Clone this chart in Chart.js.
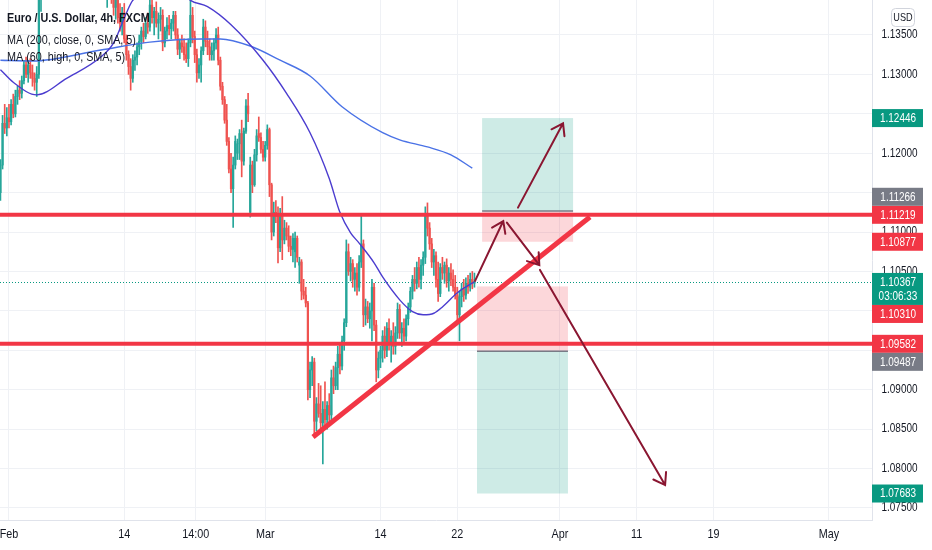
<!DOCTYPE html>
<html>
<head>
<meta charset="utf-8">
<script src="https://cdn.jsdelivr.net/npm/chart.js@4.4.0/dist/chart.umd.min.js"></script>
<style>
  html, body { margin: 0; padding: 0; background: #fff; }
</style>
</head>
<body>
<canvas id="chart" width="932" height="550"></canvas>
<script>
// EUR/USD 4h candles, bar 0 = Feb 1 00:00, first visible bar is -4
var firstBar = -4;
var candleOpen = [
  1.1150,1.1185,1.1238,1.1232,1.1245,1.1240,1.1262,1.1250,1.1272,1.1280,
  1.1276,1.1292,1.1312,1.1300,1.1312,1.1302,1.1295,1.1290,1.1300,1.1400,
  1.1440,1.1430,1.1440,1.1460,1.1450,1.1445,1.1440,1.1448,1.1452,1.1440,
  1.1425,1.1430,1.1420,1.1435,1.1440,1.1415,1.1420,1.1410,1.1425,1.1418,
  1.1425,1.1430,1.1440,1.1432,1.1438,1.1442,1.1445,1.1460,1.1480,1.1450,
  1.1410,1.1420,1.1405,1.1400,1.1385,1.1395,1.1372,1.1365,1.1378,1.1345,
  1.1325,1.1310,1.1295,1.1318,1.1322,1.1335,1.1342,1.1355,1.1348,1.1365,
  1.1360,1.1388,1.1372,1.1380,1.1365,1.1370,1.1375,1.1340,1.1355,1.1362,
  1.1358,1.1365,1.1375,1.1350,1.1332,1.1340,1.1335,1.1325,1.1320,1.1340,
  1.1375,1.1348,1.1325,1.1302,1.1312,1.1330,1.1360,1.1342,1.1335,1.1325,
  1.1330,1.1340,1.1350,1.1318,1.1285,1.1268,1.1242,1.1215,1.1180,1.1155,
  1.1185,1.1200,1.1212,1.1225,1.1190,1.1228,1.1260,1.1125,1.1185,1.1160,
  1.1198,1.1225,1.1220,1.1205,1.1195,1.1210,1.1230,1.1160,1.1100,1.1125,
  1.1120,1.1080,1.1122,1.1090,1.1105,1.1095,1.1082,1.1078,1.1075,1.1092,
  1.1058,1.1062,1.1025,1.1020,1.1010,1.0900,1.0925,1.0935,1.0860,1.0882,
  1.0870,1.0858,1.0875,1.0862,1.0880,1.0868,1.0915,1.0905,1.0928,1.0945,
  1.0930,1.0962,1.0985,1.1075,1.1050,1.1060,1.1040,1.1048,1.1030,1.1062,
  1.1085,1.0995,1.1005,1.0990,1.1000,1.1030,1.0982,1.0925,1.0940,1.0950,
  1.0968,1.0950,1.0978,1.0958,1.0968,1.0955,1.0972,1.1002,1.0972,1.0978,
  1.0968,1.0990,1.1005,1.1025,1.1040,1.1035,1.1055,1.1040,1.1058,1.1068,
  1.1120,1.1105,1.1085,1.1062,1.1070,1.1040,1.1022,1.1055,1.1048,1.1058,
  1.1038,1.1048,1.1040,1.1030,1.1020,1.0995,1.1018,1.1028,1.1020,1.1035,
  1.1030,1.1040,1.1035
];
var candleHigh = [
  1.1192,1.1248,1.1262,1.1258,1.1262,1.1268,1.1275,1.1280,1.1285,1.1292,
  1.1298,1.1318,1.1322,1.1318,1.1320,1.1312,1.1302,1.1310,1.1415,1.1450,
  1.1450,1.1445,1.1470,1.1475,1.1480,1.1460,1.1455,1.1460,1.1460,1.1450,
  1.1445,1.1445,1.1440,1.1445,1.1445,1.1430,1.1435,1.1430,1.1440,1.1432,
  1.1445,1.1448,1.1450,1.1445,1.1450,1.1455,1.1470,1.1495,1.1490,1.1460,
  1.1430,1.1430,1.1415,1.1410,1.1400,1.1405,1.1390,1.1385,1.1390,1.1350,
  1.1330,1.1320,1.1325,1.1330,1.1340,1.1350,1.1360,1.1365,1.1372,1.1378,
  1.1395,1.1400,1.1385,1.1392,1.1378,1.1385,1.1382,1.1360,1.1372,1.1375,
  1.1370,1.1380,1.1380,1.1358,1.1345,1.1350,1.1345,1.1340,1.1345,1.1395,
  1.1385,1.1355,1.1332,1.1320,1.1335,1.1370,1.1368,1.1355,1.1345,1.1340,
  1.1345,1.1358,1.1360,1.1322,1.1290,1.1272,1.1262,1.1220,1.1200,1.1195,
  1.1222,1.1218,1.1230,1.1242,1.1232,1.1268,1.1276,1.1195,1.1190,1.1205,
  1.1230,1.1246,1.1226,1.1215,1.1215,1.1236,1.1232,1.1162,1.1138,1.1140,
  1.1132,1.1130,1.1145,1.1115,1.1112,1.1108,1.1095,1.1098,1.1100,1.1095,
  1.1068,1.1065,1.1040,1.1030,1.1012,1.0935,1.0942,1.0940,1.0890,1.0908,
  1.0905,1.0885,1.0910,1.0885,1.0895,1.0925,1.0930,1.0935,1.0955,1.0958,
  1.0968,1.0990,1.1090,1.1085,1.1068,1.1065,1.1055,1.1060,1.1070,1.1120,
  1.1090,1.1015,1.1012,1.1010,1.1040,1.1035,1.0988,1.0948,1.0955,1.0975,
  1.0980,1.0985,1.0990,1.0975,1.0985,1.0980,1.1010,1.1008,1.0985,1.0990,
  1.0995,1.1010,1.1030,1.1045,1.1055,1.1062,1.1068,1.1065,1.1075,1.1132,
  1.1137,1.1112,1.1092,1.1078,1.1075,1.1062,1.1060,1.1068,1.1062,1.1066,
  1.1055,1.1060,1.1052,1.1045,1.1030,1.1025,1.1035,1.1040,1.1042,1.1045,
  1.1048,1.1050,1.1048
];
var candleLow = [
  1.1140,1.1180,1.1225,1.1222,1.1232,1.1236,1.1245,1.1246,1.1262,1.1268,
  1.1270,1.1288,1.1296,1.1290,1.1295,1.1285,1.1280,1.1272,1.1295,1.1380,
  1.1420,1.1425,1.1430,1.1440,1.1435,1.1420,1.1425,1.1435,1.1425,1.1415,
  1.1410,1.1415,1.1410,1.1420,1.1405,1.1400,1.1405,1.1400,1.1415,1.1410,
  1.1415,1.1420,1.1425,1.1420,1.1428,1.1430,1.1435,1.1450,1.1440,1.1395,
  1.1385,1.1400,1.1390,1.1375,1.1370,1.1365,1.1355,1.1350,1.1340,1.1318,
  1.1300,1.1280,1.1290,1.1305,1.1312,1.1325,1.1332,1.1340,1.1345,1.1352,
  1.1355,1.1365,1.1350,1.1360,1.1345,1.1355,1.1330,1.1335,1.1345,1.1350,
  1.1345,1.1355,1.1345,1.1325,1.1320,1.1328,1.1318,1.1315,1.1310,1.1335,
  1.1340,1.1315,1.1290,1.1295,1.1290,1.1325,1.1335,1.1325,1.1318,1.1318,
  1.1318,1.1332,1.1312,1.1280,1.1262,1.1238,1.1210,1.1175,1.1150,1.1106,
  1.1180,1.1192,1.1192,1.1170,1.1185,1.1225,1.1240,1.1119,1.1150,1.1158,
  1.1190,1.1215,1.1200,1.1190,1.1190,1.1205,1.1145,1.1090,1.1095,1.1112,
  1.1061,1.1075,1.1065,1.1085,1.1090,1.1075,1.1070,1.1062,1.1055,1.1062,
  1.1035,1.1014,1.1015,1.1005,1.0887,1.0890,1.0905,1.0840,1.0848,1.0865,
  1.0845,1.0806,1.0850,1.0850,1.0858,1.0862,1.0895,1.0900,1.0900,1.0920,
  1.0925,1.0950,1.0980,1.1045,1.1038,1.1030,1.1025,1.1020,1.1025,1.1055,
  1.0980,1.0982,1.0985,1.0978,1.0962,1.0975,1.0910,1.0915,1.0928,1.0935,
  1.0940,1.0942,1.0950,1.0935,1.0945,1.0945,1.0965,1.0965,1.0955,1.0960,
  1.0962,1.0982,1.0998,1.1015,1.1025,1.1028,1.1030,1.1028,1.1045,1.1060,
  1.1095,1.1078,1.1055,1.1045,1.1030,1.1012,1.1018,1.1040,1.1035,1.1030,
  1.1025,1.1032,1.1025,1.1015,1.0985,1.0962,1.1005,1.1012,1.1015,1.1022,
  1.1025,1.1028,1.1030
];
var candleClose = [
  1.1185,1.1238,1.1232,1.1245,1.1240,1.1262,1.1250,1.1272,1.1280,1.1276,
  1.1292,1.1312,1.1300,1.1312,1.1302,1.1295,1.1290,1.1300,1.1400,1.1440,
  1.1430,1.1440,1.1460,1.1450,1.1445,1.1440,1.1448,1.1452,1.1440,1.1425,
  1.1430,1.1420,1.1435,1.1440,1.1415,1.1420,1.1410,1.1425,1.1418,1.1425,
  1.1430,1.1440,1.1432,1.1438,1.1442,1.1445,1.1460,1.1480,1.1450,1.1410,
  1.1420,1.1405,1.1400,1.1385,1.1395,1.1372,1.1365,1.1378,1.1345,1.1325,
  1.1310,1.1295,1.1318,1.1322,1.1335,1.1342,1.1355,1.1348,1.1365,1.1360,
  1.1388,1.1372,1.1380,1.1365,1.1370,1.1375,1.1340,1.1355,1.1362,1.1358,
  1.1365,1.1375,1.1350,1.1332,1.1340,1.1335,1.1325,1.1320,1.1340,1.1375,
  1.1348,1.1325,1.1302,1.1312,1.1330,1.1360,1.1342,1.1335,1.1325,1.1330,
  1.1340,1.1350,1.1318,1.1285,1.1268,1.1242,1.1215,1.1180,1.1155,1.1185,
  1.1215,1.1212,1.1225,1.1190,1.1228,1.1260,1.1250,1.1185,1.1160,1.1198,
  1.1222,1.1220,1.1205,1.1195,1.1210,1.1230,1.1160,1.1100,1.1125,1.1120,
  1.1080,1.1122,1.1090,1.1105,1.1095,1.1082,1.1078,1.1092,1.1092,1.1068,
  1.1062,1.1025,1.1020,1.1010,1.0900,1.0925,1.0935,1.0860,1.0882,1.0870,
  1.0858,1.0875,1.0862,1.0880,1.0868,1.0915,1.0905,1.0928,1.0945,1.0930,
  1.0962,1.0985,1.1075,1.1050,1.1060,1.1040,1.1048,1.1030,1.1062,1.1085,
  1.0995,1.1005,1.0990,1.1000,1.1030,1.0982,1.0925,1.0940,1.0950,1.0968,
  1.0950,1.0978,1.0958,1.0968,1.0955,1.0972,1.1002,1.0972,1.0978,1.0968,
  1.0990,1.1005,1.1025,1.1040,1.1035,1.1055,1.1040,1.1058,1.1068,1.1120,
  1.1105,1.1085,1.1062,1.1070,1.1040,1.1022,1.1055,1.1048,1.1058,1.1038,
  1.1048,1.1040,1.1030,1.1020,1.0995,1.1018,1.1028,1.1020,1.1035,1.1030,
  1.1040,1.1035,1.1037
];

// moving averages
var ma200Bars = [-4, 11, 43, 66, 90, 99, 113, 127, 141, 156, 175, 183, 196, 207, 217];
var ma200Values = [1.1318, 1.1317, 1.1331, 1.1341, 1.1345, 1.1345, 1.1336, 1.1318, 1.1298, 1.1259, 1.1226, 1.1217, 1.1208, 1.1198, 1.1181];
var ma60Bars = [-4, 2, 13, 27, 43, 49, 55, 58, 71, 78, 85, 93, 104, 119, 130, 141, 150, 155, 160, 164, 171, 175, 183, 189, 194, 199, 203, 210, 218];
var ma60Values = [1.1306, 1.1290, 1.1274, 1.1295, 1.1322, 1.1340, 1.1378, 1.1394, 1.1410, 1.1412, 1.1394, 1.1386, 1.1363, 1.1318, 1.1276, 1.1226, 1.1168, 1.1125, 1.1099, 1.1086, 1.1061, 1.1043, 1.1014, 1.0999, 1.0995, 1.0997, 1.1005, 1.1023, 1.1037];

// drawings
var hLevels = [1.11219, 1.09582];
var trendBars = [142.4, 272.1];
var trendPrices = [1.0840, 1.1119];
var longBars = [221.6, 264.2];
var longPrices = [1.12446, 1.11266, 1.10877];   // target, entry, stop
var shortBars = [219.2, 261.8];
var shortPrices = [1.10310, 1.09487, 1.07683];  // stop, entry, target
var arrowFromBar = [218.3, 233.2, 248.7, 238.4];
var arrowFromPrice = [1.1038, 1.1112, 1.1052, 1.1131];
var arrowToBar = [231.5, 248.4, 307.3, 259.5];
var arrowToPrice = [1.1114, 1.1058, 1.0779, 1.1238];
var lastPrice = 1.10367;
var countdown = "03:06:33";

// axes
var xTickBars = [0, 54, 87.5, 120, 174, 210, 258, 294, 330, 384];
var xTickLabels = ["Feb", "14", "14:00", "Mar", "14", "22", "Apr", "11", "19", "May"];
var yGridValues = [1.075, 1.080, 1.085, 1.090, 1.095, 1.100, 1.105, 1.110, 1.115, 1.120, 1.125, 1.130, 1.135];
var yTickShown = [1.075, 1.080, 1.085, 1.090, 1.105, 1.110, 1.120, 1.130, 1.135];
var xMin = -4.2, xMax = 404.2;
var yMin = 1.07347, yMax = 1.13944;

var FONT = "'Liberation Sans', Arial, sans-serif";
var SQUEEZE = 0.83;   // the reference uses a narrow face
var UP = "#26A69A", DOWN = "#EF5350", LINE_RED = "#F23645", ARROW = "#8A1631";
var TEAL = "#089981", GREY = "#787B86", TEXT = "#131722", GRID = "#EFF1F5";

Chart.defaults.font.family = FONT;

var colors = candleOpen.map(function(o, k) { return candleClose[k] >= o ? UP : DOWN; });
var wicks = candleOpen.map(function(o, k) { return { x: firstBar + k, y: [candleLow[k], candleHigh[k]] }; });
var bodies = candleOpen.map(function(o, k) { return { x: firstBar + k, y: [o, candleClose[k]] }; });
var ma200 = ma200Bars.map(function(b, k) { return { x: b, y: ma200Values[k] }; });
var ma60 = ma60Bars.map(function(b, k) { return { x: b, y: ma60Values[k] }; });

function lineSet(data, color, width, order, extra) {
    var ds = { type: "line", data: data, borderColor: color, borderWidth: width,
               pointRadius: 0, fill: false, order: order };
    for (var key in extra) ds[key] = extra[key];
    return ds;
}

var datasets = [
    { type: "bar", data: wicks, backgroundColor: colors, barThickness: 1, grouped: false, order: 9 },
    { type: "bar", data: bodies, backgroundColor: colors, barThickness: 1.6, grouped: false, order: 8 },
    lineSet(ma200, "#4A72E6", 1.4, 6, { cubicInterpolationMode: "monotone" }),
    lineSet(ma60, "#4B3CCF", 1.4, 5, { cubicInterpolationMode: "monotone" })
];
hLevels.forEach(function(level) {
    datasets.push(lineSet([{ x: xMin - 2, y: level }, { x: xMax + 2, y: level }], LINE_RED, 4, 3, {}));
});
datasets.push(lineSet(trendBars.map(function(b, k) { return { x: b, y: trendPrices[k] }; }), LINE_RED, 5, 2, {}));

// narrow text: squeeze horizontally around the anchor point
function text(ctx, str, x, y, font, color, align) {
    ctx.save();
    ctx.font = font;
    ctx.fillStyle = color;
    ctx.textAlign = align;
    ctx.textBaseline = "middle";
    ctx.translate(x, y);
    ctx.scale(SQUEEZE, 1);
    ctx.fillText(str, 0, 0);
    ctx.restore();
}

function drawPosition(ctx, x, y, bars, topPrice, entry, bottomPrice, topColor, bottomColor) {
    var x0 = x.getPixelForValue(bars[0]), x1 = x.getPixelForValue(bars[1]);
    var yt = y.getPixelForValue(topPrice), ye = y.getPixelForValue(entry), yb = y.getPixelForValue(bottomPrice);
    ctx.fillStyle = topColor;
    ctx.fillRect(x0, yt, x1 - x0, ye - yt);
    ctx.fillStyle = bottomColor;
    ctx.fillRect(x0, ye, x1 - x0, yb - ye);
    ctx.strokeStyle = GREY;
    ctx.lineWidth = 1.5;
    ctx.beginPath();
    ctx.moveTo(x0, ye);
    ctx.lineTo(x1, ye);
    ctx.stroke();
}

function placeLabels(list, y) {
    var placed = [];
    list.forEach(function(l) {
        var h = l.lines.length * 14 + 4;
        var top = y.getPixelForValue(l.price) - 9;
        for (var pass = 0; pass < 6; pass++) {
            var hit = placed.find(function(p) { return top < p.top + p.h && top + h > p.top; });
            if (!hit) break;
            top = l.price > hit.price ? hit.top - h : hit.top + hit.h;
        }
        placed.push({ price: l.price, lines: l.lines, color: l.color, top: top, h: h });
    });
    return placed;
}

var overlay = {
    id: "overlay",
    beforeDatasetsDraw: function(chart) {
        var ctx = chart.ctx, a = chart.chartArea, x = chart.scales.x, y = chart.scales.y;
        ctx.save();
        ctx.beginPath();
        ctx.rect(a.left, a.top, a.width, a.height);
        ctx.clip();
        // current price line
        var yp = Math.round(y.getPixelForValue(lastPrice)) + 0.5;
        ctx.strokeStyle = TEAL;
        ctx.lineWidth = 1;
        ctx.setLineDash([1, 2]);
        ctx.beginPath();
        ctx.moveTo(a.left, yp);
        ctx.lineTo(a.right, yp);
        ctx.stroke();
        ctx.setLineDash([]);
        drawPosition(ctx, x, y, longBars, longPrices[0], longPrices[1], longPrices[2],
                     "rgba(8,153,129,0.2)", "rgba(242,54,69,0.2)");
        drawPosition(ctx, x, y, shortBars, shortPrices[0], shortPrices[1], shortPrices[2],
                     "rgba(242,54,69,0.2)", "rgba(8,153,129,0.2)");
        ctx.restore();
    },
    afterDatasetsDraw: function(chart) {
        var ctx = chart.ctx, x = chart.scales.x, y = chart.scales.y;
        ctx.save();
        ctx.strokeStyle = ARROW;
        ctx.lineWidth = 2;
        ctx.lineCap = "round";
        arrowFromBar.forEach(function(b, k) {
            var x0 = x.getPixelForValue(b), y0 = y.getPixelForValue(arrowFromPrice[k]);
            var x1 = x.getPixelForValue(arrowToBar[k]), y1 = y.getPixelForValue(arrowToPrice[k]);
            var ang = Math.atan2(y1 - y0, x1 - x0);
            ctx.beginPath();
            ctx.moveTo(x0, y0);
            ctx.lineTo(x1, y1);
            ctx.moveTo(x1 - 13 * Math.cos(ang - 0.6), y1 - 13 * Math.sin(ang - 0.6));
            ctx.lineTo(x1, y1);
            ctx.lineTo(x1 - 13 * Math.cos(ang + 0.6), y1 - 13 * Math.sin(ang + 0.6));
            ctx.stroke();
        });
        ctx.restore();
    },
    afterDraw: function(chart) {
        var ctx = chart.ctx, x = chart.scales.x, y = chart.scales.y, a = chart.chartArea;
        ctx.save();
        // legend text
        text(ctx, "Euro / U.S. Dollar, 4h, FXCM", 7, 18, "bold 13px " + FONT, TEXT, "left");
        text(ctx, "MA (200, close, 0, SMA, 5)", 7, 40, "13px " + FONT, TEXT, "left");
        text(ctx, "MA (60, high, 0, SMA, 5)", 7, 57, "13px " + FONT, TEXT, "left");

        // time axis labels
        xTickBars.forEach(function(v, i) {
            var px = Math.max(x.getPixelForValue(v), 9);
            text(ctx, xTickLabels[i], px, 534, "13px " + FONT, TEXT, "center");
        });
        // price axis labels
        yTickShown.forEach(function(v) {
            text(ctx, v.toFixed(5), a.right + 27.5, y.getPixelForValue(v), "12px " + FONT, TEXT, "center");
        });

        // USD badge
        ctx.strokeStyle = "#D1D4DC";
        ctx.lineWidth = 1;
        ctx.beginPath();
        ctx.roundRect(891.5, 8.5, 23, 18, 4);
        ctx.stroke();
        text(ctx, "USD", 903, 18, "11px " + FONT, TEXT, "center");

        // coloured price scale labels
        var list = [
            { price: lastPrice, lines: [lastPrice.toFixed(5), countdown], color: TEAL },
            { price: hLevels[0], lines: [hLevels[0].toFixed(5)], color: LINE_RED },
            { price: hLevels[1], lines: [hLevels[1].toFixed(5)], color: LINE_RED },
            { price: longPrices[0], lines: [longPrices[0].toFixed(5)], color: TEAL },
            { price: longPrices[1], lines: [longPrices[1].toFixed(5)], color: GREY },
            { price: longPrices[2], lines: [longPrices[2].toFixed(5)], color: LINE_RED },
            { price: shortPrices[0], lines: [shortPrices[0].toFixed(5)], color: LINE_RED },
            { price: shortPrices[1], lines: [shortPrices[1].toFixed(5)], color: GREY },
            { price: shortPrices[2], lines: [shortPrices[2].toFixed(5)], color: TEAL }
        ];
        placeLabels(list, y).forEach(function(p) {
            ctx.fillStyle = p.color;
            ctx.fillRect(a.right, p.top, 51, p.h);
            p.lines.forEach(function(t, i) {
                text(ctx, t, a.right + 26, p.top + 9.5 + i * 14, "12px " + FONT, "#FFFFFF", "center");
            });
        });
        ctx.restore();
    }
};

new Chart(document.getElementById("chart"), {
    type: "bar",
    data: { datasets: datasets },
    options: {
        responsive: false,
        animation: false,
        events: [],
        layout: { padding: 0 },
        plugins: { legend: { display: false }, tooltip: { enabled: false } },
        scales: {
            x: {
                type: "linear", min: xMin, max: xMax, offset: false,
                afterBuildTicks: function(s) { s.ticks = xTickBars.map(function(v) { return { value: v }; }); },
                afterFit: function(s) { s.height = 30; s.paddingLeft = 0; s.paddingRight = 0; },
                grid: { color: GRID, drawTicks: false, offset: false },
                border: { color: "#E0E3EB" },
                ticks: { display: false }
            },
            y: {
                type: "linear", position: "right", min: yMin, max: yMax,
                afterBuildTicks: function(s) { s.ticks = yGridValues.map(function(v) { return { value: v }; }); },
                afterFit: function(s) { s.width = 60; s.paddingTop = 0; s.paddingBottom = 0; },
                grid: { color: GRID, drawTicks: false },
                border: { color: "#E0E3EB" },
                ticks: { display: false }
            }
        }
    },
    plugins: [overlay]
});
</script>
</body>
</html>
